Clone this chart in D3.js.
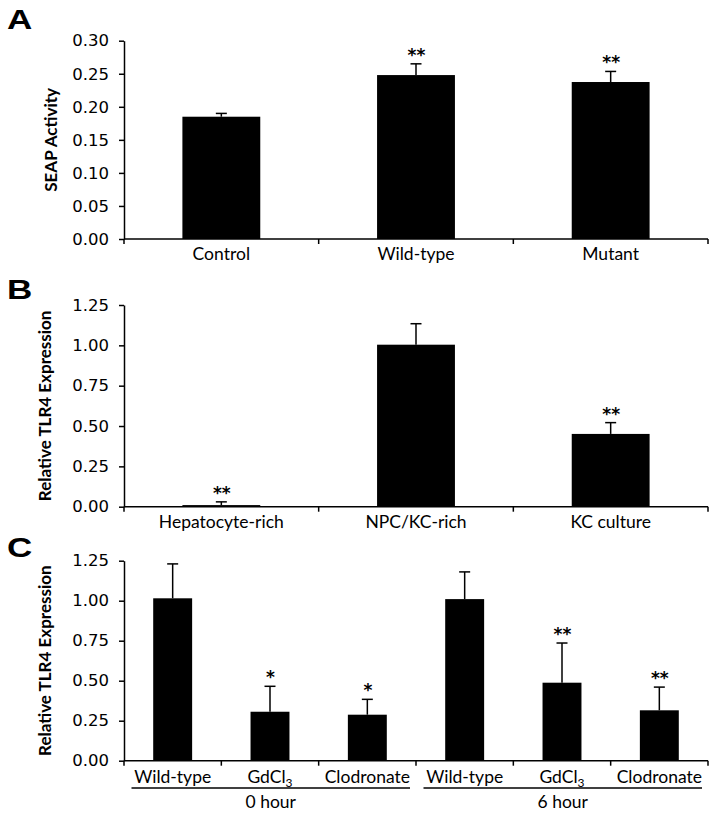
<!DOCTYPE html>
<html>
<head>
<meta charset="utf-8">
<script src="https://cdn.jsdelivr.net/npm/d3@7"></script>
<style>
  body { margin: 0; background: #fff; }
  svg { display: block; }
</style>
</head>
<body>
<script>
// ---------- Data ----------
const catsA = ["Control", "Wild-type", "Mutant"];
const valsA = [0.185, 0.248, 0.2375];
const errsA = [0.005, 0.017, 0.016];
const sigA  = ["", "**", "**"];
const ticksA = [0, 0.05, 0.10, 0.15, 0.20, 0.25, 0.30];

const catsB = ["Hepatocyte-rich", "NPC/KC-rich", "KC culture"];
const valsB = [0.010, 1.004, 0.451];
const errsB = [0.020, 0.130, 0.070];
const sigB  = ["**", "", "**"];
const ticksB = [0, 0.25, 0.50, 0.75, 1.00, 1.25];

const catsC = ["Wild-type", "GdCl3", "Clodronate", "Wild-type", "GdCl3", "Clodronate"];
const valsC = [1.015, 0.306, 0.2875, 1.010, 0.4875, 0.315];
const errsC = [0.215, 0.159, 0.096, 0.170, 0.248, 0.145];
const sigC  = ["", "*", "*", "", "**", "**"];
const ticksC = [0, 0.25, 0.50, 0.75, 1.00, 1.25];
const groupsC = ["0 hour", "6 hour"];

// ---------- Drawing ----------
const W = 714, H = 814;
const svg = d3.select("body").append("svg").attr("width", W).attr("height", H);

const xLeft = 124, xRight = 708;
const tickFont = "'DejaVu Sans', sans-serif";
const catFont = "Lato, 'Open Sans', sans-serif";

function panel(opts) {
  const { letter, letterY, cats, vals, errs, sig, ticks, domainMax, top, bottom,
          ylabel, ylabelX, catOffset, fmt } = opts;
  const g = svg.append("g");
  const y = d3.scaleLinear().domain([0, domainMax]).range([bottom, top]);
  const x = d3.scaleBand().domain(d3.range(cats.length)).range([xLeft, xRight])
    .paddingInner(0.6).paddingOuter(0.3);

  // panel letter
  g.append("text").attr("x", 0).attr("y", 0)
    .attr("transform", `translate(7,${letterY}) scale(1.25,1)`)
    .attr("font-family", "'Liberation Sans', Arial, sans-serif")
    .attr("font-weight", "bold").attr("font-size", 28).text(letter);

  // y axis
  const ax = g.append("g").attr("transform", `translate(${xLeft},0)`)
    .call(d3.axisLeft(y).tickValues(ticks).tickFormat(d3.format(fmt))
      .tickSize(5).tickSizeOuter(0).tickPadding(10));
  ax.selectAll("path,line").attr("stroke", "#000").attr("stroke-width", 1.5);
  ax.selectAll("text").attr("font-family", tickFont).attr("font-size", 16.5).attr("fill", "#000");

  // y label
  g.append("text")
    .attr("transform", `translate(${ylabelX},${(top + bottom) / 2}) rotate(-90)`)
    .attr("text-anchor", "middle").attr("font-family", catFont)
    .attr("font-weight", "bold").attr("font-size", 17).text(ylabel);

  // bars
  g.selectAll("rect.bar").data(vals).join("rect").attr("class", "bar")
    .attr("x", (d, i) => x(i)).attr("width", x.bandwidth())
    .attr("y", d => y(d)).attr("height", d => bottom - y(d)).attr("fill", "#000");

  // error bars
  const cx = i => x(i) + x.bandwidth() / 2;
  vals.forEach((v, i) => {
    const yt = y(v + errs[i]);
    g.append("line").attr("x1", cx(i)).attr("x2", cx(i)).attr("y1", y(v)).attr("y2", yt)
      .attr("stroke", "#000").attr("stroke-width", 1.5);
    g.append("line").attr("x1", cx(i) - 5.5).attr("x2", cx(i) + 5.5).attr("y1", yt).attr("y2", yt)
      .attr("stroke", "#000").attr("stroke-width", 1.5);
    if (sig[i]) {
      g.append("text").attr("x", cx(i) + 0.5).attr("y", yt + 2).attr("text-anchor", "middle")
        .attr("font-family", tickFont).attr("font-weight", "bold").attr("font-size", 17)
        .attr("dy", "-0.3em")
        .text(sig[i]);
    }
  });

  // x axis line + boundary ticks
  g.append("line").attr("x1", xLeft).attr("x2", xRight).attr("y1", bottom).attr("y2", bottom)
    .attr("stroke", "#000").attr("stroke-width", 1.5);
  const step = x.step();
  d3.range(cats.length + 1).forEach(k => {
    const bx = xLeft + k * step;
    g.append("line").attr("x1", bx).attr("x2", bx).attr("y1", bottom).attr("y2", bottom + 5)
      .attr("stroke", "#000").attr("stroke-width", 1.5);
  });

  // category labels
  cats.forEach((c, i) => {
    const t = g.append("text").attr("x", cx(i)).attr("y", bottom + catOffset)
      .attr("text-anchor", "middle").attr("font-family", catFont).attr("font-size", 17.5);
    const m = c.match(/^(.*Cl)(\d)$/);
    if (m) {
      t.append("tspan").text(m[1]);
      t.append("tspan").attr("font-size", 12).attr("dy", 4).text(m[2]);
    } else {
      t.text(c);
    }
  });
  return { x, y, step, g };
}

panel({ letter: "A", letterY: 29, cats: catsA, vals: valsA, errs: errsA, sig: sigA,
        ticks: ticksA, domainMax: 0.30, top: 40.7, bottom: 239, ylabel: "SEAP Activity",
        ylabelX: 57, catOffset: 21, fmt: ".2f" });

panel({ letter: "B", letterY: 299, cats: catsB, vals: valsB, errs: errsB, sig: sigB,
        ticks: ticksB, domainMax: 1.25, top: 305, bottom: 506.7, ylabel: "Relative TLR4 Expression",
        ylabelX: 51, catOffset: 21, fmt: ".2f" });

const pc = panel({ letter: "C", letterY: 557, cats: catsC, vals: valsC, errs: errsC, sig: sigC,
        ticks: ticksC, domainMax: 1.25, top: 560.7, bottom: 760.7, ylabel: "Relative TLR4 Expression",
        ylabelX: 51, catOffset: 22.5, fmt: ".2f" });

// group lines & labels for panel C
groupsC.forEach((gname, k) => {
  const x0 = xLeft + k * 3 * pc.step + 7.5;
  const x1 = xLeft + (k + 1) * 3 * pc.step - 6;
  pc.g.append("line").attr("x1", x0).attr("x2", x1).attr("y1", 788).attr("y2", 788)
    .attr("stroke", "#000").attr("stroke-width", 1.5);
  pc.g.append("text").attr("x", (x0 + x1) / 2).attr("y", 807.5).attr("text-anchor", "middle")
    .attr("font-family", catFont).attr("font-size", 17.5).text(gname);
});
</script>
</body>
</html>
